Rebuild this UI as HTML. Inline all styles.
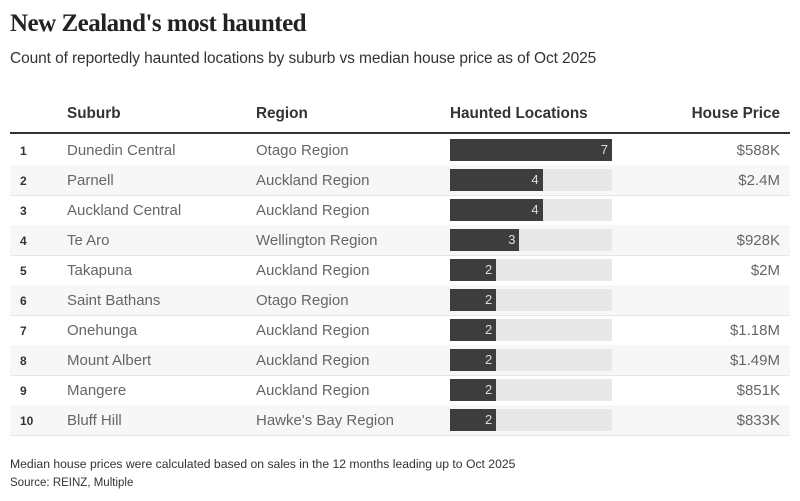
<!DOCTYPE html>
<html><head><meta charset="utf-8"><style>
body{margin:0;width:800px;height:501px;background:#fff;font-family:"Liberation Sans",sans-serif;color:#333;position:relative;overflow:hidden}
.abs{position:absolute;white-space:nowrap}
h1{position:absolute;left:10px;top:10px;margin:0;font-family:"Liberation Serif",serif;font-size:25px;font-weight:bold;color:#222;letter-spacing:-0.5px}
.sub{left:10px;top:50px;font-size:15.5px;color:#333;letter-spacing:-0.1px}
.hd{top:105px;font-size:15.3px;font-weight:bold;color:#333}
.row{position:absolute;left:10px;width:780px;height:30px;border-bottom:1px solid #e6e6e6}
.row span{position:absolute;top:7px;font-size:15px;color:#666}
.rank{left:10px!important;font-size:12px!important;font-weight:bold;color:#333!important;top:9px!important}
.foot{left:10px;font-size:12.2px;color:#333}
</style></head><body>
<h1>New Zealand's most haunted</h1>
<div class="abs sub">Count of reportedly haunted locations by suburb vs median house price as of Oct 2025</div>
<div class="abs hd" style="left:67px">Suburb</div>
<div class="abs hd" style="left:256px">Region</div>
<div class="abs hd" style="left:450px">Haunted Locations</div>
<div class="abs hd" style="right:20px">House Price</div>
<div class="abs" style="left:10px;top:132px;width:780px;height:2px;background:#333"></div>
<div id="tbl"></div>
<div class="abs foot" style="top:457px">Median house prices were calculated based on sales in the 12 months leading up to Oct 2025</div>
<div class="abs foot" style="top:477px;font-size:11.5px">Source: REINZ, Multiple</div>
<script>
const suburbs=["Dunedin Central","Parnell","Auckland Central","Te Aro","Takapuna","Saint Bathans","Onehunga","Mount Albert","Mangere","Bluff Hill"];
const regions=["Otago Region","Auckland Region","Auckland Region","Wellington Region","Auckland Region","Otago Region","Auckland Region","Auckland Region","Auckland Region","Hawke's Bay Region"];
const counts=[7,4,4,3,2,2,2,2,2,2];
const prices=["$588K","$2.4M","","$928K","$2M","","$1.18M","$1.49M","$851K","$833K"];
const maxCount=7, trackW=162;
const x=v=>v/maxCount*trackW;
const tbl=document.getElementById('tbl');
suburbs.forEach((s,i)=>{
  const r=document.createElement('div');
  r.className='row';
  
  
  r.style.top=(135+i*30)+'px';
  if(i%2===1)r.style.background='#f7f7f7';
  r.innerHTML=`<span class="rank">${i+1}</span><span style="left:57px">${s}</span><span style="left:246px">${regions[i]}</span><span style="right:10px">${prices[i]}</span>`;
  const tr=document.createElement('div');
  
  
  tr.style.cssText=`position:absolute;left:440px;top:4px;width:${trackW}px;height:22px;background:#e8e8e8`;
  const b=document.createElement('div');
  
  
  b.style.cssText=`position:absolute;left:0;top:0;height:22px;width:${x(counts[i])}px;background:#3d3d3d;color:#ddd;font-size:13px;text-align:right;line-height:22px;box-sizing:border-box;padding-right:4px`;
  b.textContent=counts[i];
  tr.appendChild(b);r.appendChild(tr);tbl.appendChild(r);
});
</script>
</body></html>
